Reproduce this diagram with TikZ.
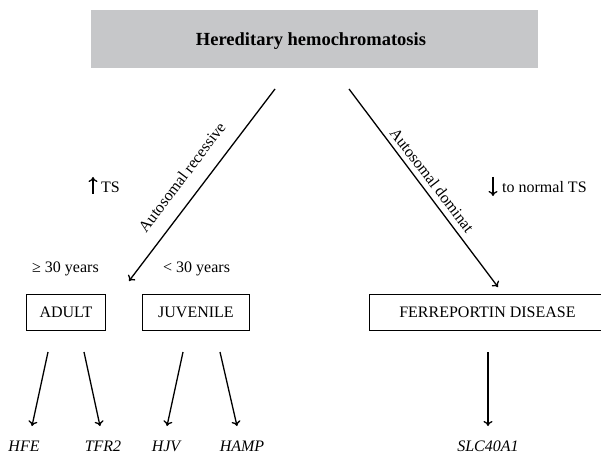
\documentclass[tikz,border=0pt]{standalone}
\usepackage{fontspec}
\setmainfont{Liberation Serif}
\usetikzlibrary{arrows.meta}
\definecolor{titlegray}{RGB}{198,199,201}
\begin{document}
\begin{tikzpicture}[x=1pt,y=-1pt,
  every node/.style={font=\fontsize{16}{19}\selectfont, inner sep=0pt},
  box/.style={draw, line width=0.9pt, minimum height=36pt, anchor=north west},
  arr/.style={line width=1.3pt, -{To[length=5pt,width=9pt]}},
  gene/.style={font=\fontsize{16}{19}\selectfont\itshape, anchor=base},
  lbl/.style={anchor=base west},
]
\useasboundingbox (0,0) rectangle (601,454);

% title
\node[fill=titlegray, minimum width=447pt, minimum height=58pt, anchor=north west] (title) at (91,10) {};
\node[font=\fontsize{18.5}{22}\selectfont\bfseries, anchor=base] (titletext) at (311,46) {Hereditary hemochromatosis};

% main branches
\coordinate (recS) at (275,89);
\coordinate (recE) at (129,281);
\coordinate (domS) at (349,89);
\coordinate (domE) at (498,287);
\draw[arr] (recS) -- (recE);
\draw[arr] (domS) -- (domE);
\node[rotate=52.8] (lblrec) at (182,177) {Autosomal recessive};
\node[rotate=-52.5] (lbldom) at (432,180) {Autosomal dominat};

% TS indications
\coordinate (upB) at (93,194);
\coordinate (upT) at (93,177);
\draw[arr] (upB) -- (upT);
\node[lbl] (ts) at (101,192.5) {TS};
\coordinate (dnT) at (493,177);
\coordinate (dnB) at (493,196);
\draw[arr] (dnT) -- (dnB);
\node[lbl] (tsn) at (502,192.5) {to normal TS};

% ages
\node[lbl] (age1) at (32,272.5) {≥ 30 years};
\node[lbl] (age2) at (163,272.5) {< 30 years};

% boxes
\node[box, minimum width=79pt] (adult) at (26,294) {ADULT};
\node[box, minimum width=107pt] (juv) at (142,294) {JUVENILE};
\node[box, minimum width=236pt] (ferro) at (369,294) {FERREPORTIN DISEASE};

% genes
\node[gene] (hfe) at (24,451.5) {HFE};
\node[gene] (tfr) at (103,451.5) {TFR2};
\node[gene] (hjv) at (166,451.5) {HJV};
\node[gene] (hamp) at (242,451.5) {HAMP};
\node[gene] (slc) at (488,451.5) {SLC40A1};

\coordinate (hfeS) at (48,352);  \coordinate (hfeE) at (32,426);
\coordinate (tfrS) at (84,352);  \coordinate (tfrE) at (100,426);
\coordinate (hjvS) at (183,352); \coordinate (hjvE) at (167,426);
\coordinate (hampS) at (220,352); \coordinate (hampE) at (237,426);
\coordinate (slcS) at (488,352); \coordinate (slcE) at (488,426);
\draw[arr] (hfeS) -- (hfeE);
\draw[arr] (tfrS) -- (tfrE);
\draw[arr] (hjvS) -- (hjvE);
\draw[arr] (hampS) -- (hampE);
\draw[arr] (slcS) -- (slcE);
\end{tikzpicture}
\end{document}
